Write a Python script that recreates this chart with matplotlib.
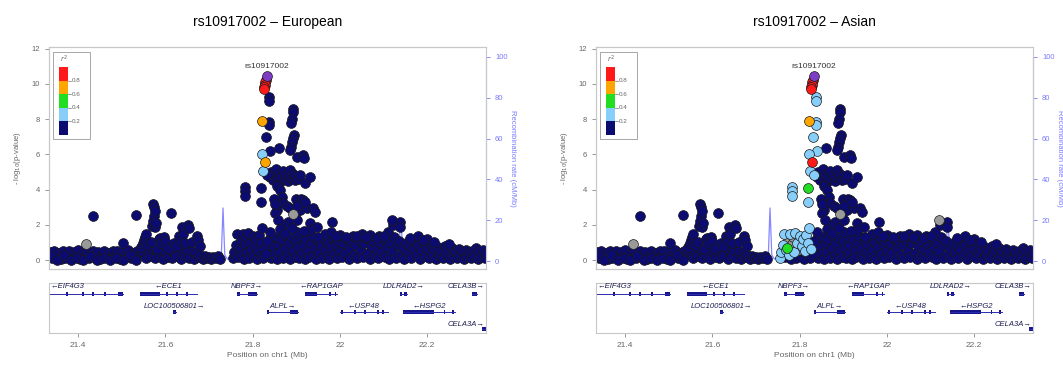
import matplotlib.pyplot as plt
from matplotlib.patches import Rectangle

plt.rcParams['font.family'] = ['Liberation Sans', 'DejaVu Sans']

# ---- data ----
lead_snp = "rs10917002"
lead_pos = 21.833
lead_logp = 10.47
panels = ["European", "Asian"]

# background SNPs, r2 < 0.2 in both populations (pos Mb, -log10 p)
band_west = [
    (21.335, 0.45), (21.340, 0.10), (21.345, 0.55), (21.350, 0.20), (21.355, 0.40), (21.360, 0.05), (21.365, 0.50),
    (21.370, 0.15), (21.375, 0.35), (21.380, 0.55), (21.385, 0.10), (21.390, 0.45), (21.395, 0.25), (21.400, 0.60),
    (21.405, 0.05), (21.410, 0.40), (21.415, 0.20), (21.420, 0.55), (21.425, 0.10), (21.430, 0.35), (21.435, 0.50),
    (21.440, 0.15), (21.445, 0.45), (21.450, 0.05), (21.455, 0.30), (21.460, 0.55), (21.465, 0.20), (21.470, 0.40),
    (21.475, 0.10), (21.480, 0.50), (21.485, 0.25), (21.490, 0.55), (21.495, 0.05), (21.500, 0.45), (21.505, 0.15),
    (21.510, 0.35), (21.515, 0.60), (21.520, 0.10), (21.525, 0.40), (21.530, 0.20), (21.535, 0.55), (21.540, 0.30),
    (21.545, 0.45), (21.338, 0.25), (21.352, 0.00), (21.368, 0.30), (21.383, 0.00), (21.398, 0.15), (21.412, 0.00),
    (21.428, 0.25), (21.443, 0.00), (21.458, 0.10), (21.473, 0.00), (21.487, 0.10), (21.503, 0.00), (21.518, 0.30),
    (21.533, 0.00),
]
band_mid = [
    (21.550, 0.40), (21.555, 0.15), (21.560, 0.60), (21.565, 0.25), (21.570, 0.70), (21.575, 0.10), (21.580, 0.50),
    (21.585, 0.30), (21.590, 0.75), (21.595, 0.05), (21.600, 0.55), (21.605, 0.20), (21.610, 0.65), (21.615, 0.10),
    (21.620, 0.45), (21.625, 0.25), (21.630, 0.80), (21.635, 0.05), (21.640, 0.55), (21.645, 0.30), (21.650, 0.60),
    (21.655, 0.15), (21.660, 0.50), (21.665, 0.05), (21.670, 0.40), (21.675, 0.20), (21.680, 0.30), (21.685, 0.05),
    (21.690, 0.25), (21.695, 0.10), (21.700, 0.20), (21.705, 0.05), (21.710, 0.20), (21.715, 0.10), (21.720, 0.25),
    (21.725, 0.05),
]
band_east = [
    (21.836, 0.50), (21.840, 1.20), (21.843, 0.10), (21.846, 0.80), (21.850, 0.35), (21.853, 1.30), (21.856, 0.05),
    (21.860, 0.90), (21.863, 0.45), (21.866, 1.20), (21.870, 0.15), (21.873, 0.70), (21.876, 1.35), (21.880, 0.30),
    (21.883, 0.95), (21.886, 0.05), (21.890, 1.25), (21.893, 0.55), (21.896, 0.20), (21.900, 1.10), (21.903, 0.75),
    (21.906, 0.10), (21.910, 1.30), (21.913, 0.40), (21.916, 0.85), (21.920, 0.05), (21.923, 1.20), (21.926, 0.50),
    (21.930, 0.20), (21.933, 0.95), (21.936, 1.35), (21.940, 0.30), (21.943, 0.70), (21.946, 0.05), (21.950, 1.15),
    (21.953, 0.45), (21.956, 0.85), (21.960, 0.15), (21.963, 1.25), (21.966, 0.60), (21.970, 0.25), (21.973, 1.00),
    (21.976, 0.05), (21.980, 0.75), (21.983, 1.30), (21.986, 0.35), (21.990, 0.90), (21.993, 0.10), (21.996, 1.10),
    (22.000, 0.50), (22.004, 0.20), (22.008, 0.95), (22.012, 0.40), (22.016, 1.20), (22.020, 0.05), (22.024, 0.70),
    (22.028, 1.05), (22.032, 0.30), (22.036, 0.85), (22.040, 0.10), (22.044, 1.15), (22.048, 0.55), (22.052, 0.20),
    (22.056, 0.95), (22.060, 1.25), (22.064, 0.40), (22.068, 0.05), (22.072, 0.80), (22.076, 1.10), (22.080, 0.30),
    (22.084, 0.65), (22.088, 0.10), (22.092, 1.00), (22.096, 0.45), (22.100, 1.20), (22.104, 0.20), (22.108, 0.75),
    (22.112, 0.05), (22.116, 0.95), (22.120, 0.50), (22.124, 1.30), (22.128, 0.15), (22.132, 0.85), (22.136, 1.10),
    (22.140, 0.35), (22.144, 0.70), (22.148, 0.05), (22.152, 1.00), (22.156, 0.45), (22.160, 0.80), (22.164, 0.10),
    (22.168, 0.65), (22.172, 1.05), (22.176, 0.30), (22.180, 0.85), (22.184, 0.05), (22.188, 0.60), (22.192, 0.95),
    (22.196, 0.25), (22.200, 0.70), (22.204, 0.10), (22.208, 0.85), (22.212, 0.40), (22.216, 0.65), (22.220, 0.05),
    (22.224, 0.75), (22.228, 0.30), (22.232, 0.55), (22.236, 0.10), (22.240, 0.80), (22.244, 0.35), (22.248, 0.60),
    (22.252, 0.05), (22.256, 0.70), (22.260, 0.25), (22.264, 0.50), (22.268, 0.10), (22.272, 0.65), (22.276, 0.30),
    (22.280, 0.55), (22.284, 0.05), (22.288, 0.60), (22.292, 0.20), (22.296, 0.45), (22.300, 0.10), (22.304, 0.55),
    (22.308, 0.25), (22.312, 0.70), (22.316, 0.05), (22.320, 0.50), (22.324, 0.20), (22.328, 0.60), (22.332, 0.10),
    (22.336, 0.40),
]
upper_west = [
    (21.434, 2.50), (21.503, 0.95), (21.533, 2.55), (21.545, 0.75), (21.548, 0.95), (21.550, 1.15), (21.553, 1.30),
    (21.555, 1.50), (21.560, 0.85), (21.566, 1.05), (21.570, 1.95), (21.571, 2.20), (21.572, 3.20), (21.573, 2.50),
    (21.574, 3.00), (21.575, 2.80), (21.576, 1.90), (21.578, 2.10), (21.580, 0.65), (21.585, 1.20), (21.588, 1.25),
    (21.590, 1.00), (21.596, 1.30), (21.598, 1.10), (21.605, 0.70), (21.613, 2.70), (21.620, 1.00), (21.625, 0.80),
    (21.630, 1.40), (21.635, 1.10), (21.638, 1.90), (21.640, 1.50), (21.645, 0.95), (21.652, 2.00), (21.654, 1.80),
    (21.660, 1.05), (21.672, 1.40), (21.675, 1.15), (21.680, 0.80),
]
upper_east = [
    (21.893, 8.60), (21.892, 8.40), (21.890, 8.00), (21.889, 7.80), (21.894, 7.10), (21.893, 6.95), (21.891, 6.70),
    (21.888, 6.40), (21.886, 6.25), (21.861, 6.35), (21.902, 5.85), (21.915, 5.95), (21.918, 5.80),
    (21.840, 4.70), (21.843, 5.00), (21.847, 4.55), (21.850, 4.85), (21.853, 5.20), (21.856, 4.60), (21.860, 4.90),
    (21.863, 4.45), (21.866, 4.75), (21.870, 5.05), (21.873, 4.60), (21.876, 4.85), (21.880, 4.50), (21.883, 4.75),
    (21.886, 5.10), (21.890, 4.65), (21.893, 4.90), (21.897, 4.55), (21.900, 4.80), (21.905, 4.60), (21.909, 4.85),
    (21.920, 4.40), (21.932, 4.70),
    (21.855, 4.20), (21.863, 4.00), (21.867, 3.60), (21.870, 3.25), (21.851, 3.40), (21.856, 2.85), (21.851, 2.70),
    (21.879, 3.10), (21.886, 2.95), (21.897, 2.65), (21.909, 2.85), (21.902, 2.30), (21.925, 2.95), (21.939, 2.95),
    (21.943, 2.75), (21.881, 2.15), (21.870, 2.00), (21.858, 2.30), (21.932, 2.10), (21.948, 1.90), (21.982, 2.15),
    (21.900, 3.45), (21.910, 3.50), (21.915, 3.40), (21.920, 3.30), (21.902, 3.10), (21.848, 3.50), (21.852, 3.20),
    (21.902, 1.60), (21.932, 1.70), (21.965, 1.50), (21.980, 1.60), (22.000, 1.45), (22.030, 1.40), (22.050, 1.50),
    (22.070, 1.45), (22.090, 1.40), (22.110, 1.60), (22.122, 2.00), (22.138, 2.15), (22.138, 1.90), (22.180, 1.40),
    (22.200, 1.20), (22.215, 1.05), (22.250, 0.90), (21.840, 1.60), (21.862, 1.75), (21.875, 1.55), (21.890, 1.80),
    (21.918, 1.65), (21.950, 1.30), (21.990, 1.40), (22.015, 1.30), (22.040, 1.35), (22.060, 1.30), (22.085, 1.25),
    (22.100, 1.35), (22.160, 1.25), (22.190, 1.15),
]

# SNPs whose LD bin is shown: (pos, -log10 p, bin European, bin Asian)
# bins: R >0.8, O 0.6-0.8, G 0.4-0.6, L 0.2-0.4, N <0.2, X no LD info
ld_snps = [
    (21.831, 10.25, "R", "R"), (21.829, 10.10, "R", "R"), (21.828, 9.95, "R", "R"), (21.826, 9.85, "R", "R"),
    (21.825, 9.72, "R", "R"), (21.837, 9.25, "N", "L"), (21.838, 9.05, "N", "L"), (21.822, 7.90, "O", "O"),
    (21.837, 7.85, "N", "L"), (21.838, 7.65, "N", "L"), (21.830, 7.00, "N", "L"), (21.840, 6.20, "N", "L"),
    (21.822, 6.00, "L", "L"), (21.829, 5.60, "O", "R"), (21.824, 5.05, "L", "L"), (21.833, 4.85, "N", "L"),
    (21.820, 4.10, "N", "G"), (21.783, 4.15, "N", "L"), (21.783, 3.90, "N", "L"), (21.783, 3.65, "N", "L"),
    (21.818, 3.30, "N", "L"), (21.418, 0.90, "X", "X"), (21.893, 2.60, "X", "X"), (22.120, 2.30, "N", "X"),
    (21.755, 0.10, "N", "L"), (21.758, 0.45, "N", "L"), (21.762, 0.85, "N", "L"), (21.764, 1.50, "N", "L"),
    (21.766, 0.20, "N", "N"), (21.768, 0.60, "N", "L"), (21.771, 0.70, "N", "G"), (21.773, 1.10, "N", "X"),
    (21.776, 0.30, "N", "L"), (21.778, 1.50, "N", "L"), (21.780, 0.05, "N", "N"), (21.782, 0.90, "N", "X"),
    (21.785, 1.30, "N", "X"), (21.787, 0.45, "N", "L"), (21.790, 1.55, "N", "L"), (21.792, 0.15, "N", "N"),
    (21.794, 1.00, "N", "L"), (21.797, 0.60, "N", "X"), (21.800, 1.35, "N", "L"), (21.802, 0.25, "N", "N"),
    (21.805, 0.80, "N", "L"), (21.808, 1.20, "N", "L"), (21.810, 0.05, "N", "N"), (21.813, 0.55, "N", "L"),
    (21.815, 1.45, "N", "L"), (21.818, 0.30, "N", "N"), (21.820, 0.95, "N", "L"), (21.821, 1.85, "N", "L"),
    (21.824, 0.15, "N", "N"), (21.827, 0.65, "N", "L"), (21.830, 0.35, "N", "N"), (21.833, 1.10, "N", "N"),
]

# recombination rate (cM/Mb)
recomb_pos = [21.333, 21.40, 21.45, 21.50, 21.54, 21.56, 21.58, 21.60, 21.62, 21.64, 21.66, 21.68, 21.70,
              21.72, 21.728, 21.732, 21.736, 21.742, 21.76, 21.78, 21.80, 21.82, 21.835, 21.843, 21.85,
              21.86, 21.90, 21.95, 22.00, 22.05, 22.10, 22.12, 22.135, 22.14, 22.145, 22.16, 22.20,
              22.25, 22.30, 22.335]
recomb_rate = [0.5, 0.5, 0.8, 1.0, 2.0, 4.0, 3.0, 2.0, 3.5, 2.0, 1.5, 1.0, 0.8,
               0.5, 2.0, 26.0, 3.0, 1.0, 3.0, 2.0, 5.0, 3.0, 4.0, 12.0, 3.0,
               1.5, 1.0, 1.5, 1.0, 1.5, 1.0, 2.0, 8.0, 19.0, 3.0, 1.5, 1.0,
               1.0, 0.8, 0.5]

# genes
gene_names = ["EIF4G3", "ECE1", "NBPF3", "RAP1GAP", "LDLRAD2", "CELA3B",
              "LOC100506801", "ALPL", "USP48", "HSPG2", "CELA3A"]
gene_start = [21.335, 21.542, 21.764, 21.920, 22.138, 22.303, 21.617, 21.833, 22.000, 22.145, 22.326]
gene_end = [21.503, 21.672, 21.810, 21.993, 22.154, 22.315, 21.624, 21.904, 22.110, 22.264, 22.334]
gene_strand = ["-", "-", "+", "-", "+", "+", "+", "+", "-", "-", "+"]
gene_row = [0, 0, 0, 0, 0, 0, 1, 1, 1, 1, 2]
gene_exons = [
    [(21.372, 21.376), (21.409, 21.413), (21.432, 21.436), (21.459, 21.463), (21.491, 21.503)],
    [(21.542, 21.588), (21.602, 21.606), (21.625, 21.629), (21.648, 21.652)],
    [(21.764, 21.772), (21.789, 21.810)],
    [(21.920, 21.948), (21.976, 21.980), (21.988, 21.992)],
    [(22.138, 22.142), (22.148, 22.154)],
    [(22.303, 22.315)],
    [(21.617, 21.624)],
    [(21.833, 21.837), (21.886, 21.904)],
    [(22.003, 22.007), (22.033, 22.037), (22.056, 22.060), (22.086, 22.090), (22.097, 22.101)],
    [(22.145, 22.215), (22.238, 22.242), (22.258, 22.262)],
    [(22.326, 22.334)],
]

# ---- styling ----
bin_colors = {"N": "#0b0b72", "L": "#87cefa", "G": "#22dd22", "O": "#ffa500",
              "R": "#ff1a1a", "X": "#9a9a9a"}
lead_color = "#7e3cc6"
recomb_color = "#7a7aff"
grey_txt = "#666666"
frame_col = "#c8c8c8"
xmin, xmax = 21.333, 22.335

fig = plt.figure(figsize=(10.63, 3.69), dpi=100)
lefts = [49 / 1063, 596 / 1063]
width = 437 / 1063


def draw_panel(left, pop_idx, title):
    ax = fig.add_axes([left, 100 / 369, width, 222 / 369])
    ax2 = ax.twinx()
    ax.set_zorder(ax2.get_zorder() + 1)
    ax.patch.set_visible(False)

    # recombination rate
    ax2.plot(recomb_pos, recomb_rate, color=recomb_color, lw=0.9, alpha=0.9)
    ax2.set_ylim(-3.9, 104.9)
    ax2.set_yticks(range(0, 101, 20))
    ax2.tick_params(axis='y', colors=recomb_color, labelsize=5.5, length=3, width=0.6)
    ax2.set_ylabel("Recombination rate (cM/Mb)", color=recomb_color, fontsize=5.5,
                   rotation=270, labelpad=6)

    # background SNPs
    bg = band_west + band_mid + band_east + upper_west + upper_east
    kw = dict(s=50, linewidths=0.5, edgecolors="#1a1a1a")
    ax.scatter([p for p, _ in bg], [v for _, v in bg], c=bin_colors["N"], **kw)
    for b in ["N", "X", "L", "G", "O", "R"]:
        pts = [s for s in ld_snps if s[2 + pop_idx] == b]
        if pts:
            ax.scatter([s[0] for s in pts], [s[1] for s in pts], c=bin_colors[b], **kw)
    ax.scatter([lead_pos], [lead_logp], c=lead_color, **kw)
    ax.text(lead_pos, lead_logp + 0.55, lead_snp, ha="center", va="center",
            fontsize=6, color="#333333")

    ax.set_xlim(xmin, xmax)
    ax.set_ylim(-0.5, 12.1)
    ax.set_yticks(range(0, 13, 2))
    ax.tick_params(axis='x', bottom=False, labelbottom=False)
    ax.tick_params(axis='y', colors="#888888", labelcolor=grey_txt, labelsize=5.5, length=3, width=0.6)
    ax.set_ylabel("- log$_{10}$(p-value)", fontsize=5.5, color=grey_txt, labelpad=6)
    for a in (ax, ax2):
        for sp in a.spines.values():
            sp.set_color(frame_col)
            sp.set_linewidth(0.8)
    ax2.spines["right"].set_color(recomb_color)
    ax2.spines["right"].set_bounds(0, 100)

    # r2 legend
    ax.add_patch(Rectangle((0.009, 0.586), 0.085, 0.391, transform=ax.transAxes,
                           fill=False, edgecolor="#999999", lw=0.6))
    for k, b in enumerate(["N", "L", "G", "O", "R"]):
        ax.add_patch(Rectangle((0.023, 0.604 + k * 0.0612), 0.021, 0.0612,
                               transform=ax.transAxes, facecolor=bin_colors[b], edgecolor="none"))
    for k, lab in enumerate(["0.2", "0.4", "0.6", "0.8"]):
        yy = 0.604 + (k + 1) * 0.0612
        ax.plot([0.044, 0.05], [yy, yy], transform=ax.transAxes, color="#777777", lw=0.5)
        ax.text(0.052, yy, lab, transform=ax.transAxes, fontsize=4.5, color=grey_txt, va="center")
    ax.text(0.035, 0.945, "$r^2$", transform=ax.transAxes, fontsize=5, color=grey_txt,
            ha="center", va="center")

    fig.text(left + width / 2, 1 - 22 / 369, title, ha="center", va="center", fontsize=10)

    # gene track
    g = fig.add_axes([left, 36 / 369, width, 50 / 369])
    g.set_xlim(xmin, xmax)
    g.set_ylim(0, 50)
    g.set_yticks([])
    line_y = [39, 21, 4]
    label_y = [46, 27, 8.5]
    for name, s, e, st, r, ex in zip(gene_names, gene_start, gene_end, gene_strand, gene_row, gene_exons):
        g.plot([s, e], [line_y[r], line_y[r]], color="#2b2bb0", lw=0.7)
        for a, b in ex:
            g.add_patch(Rectangle((a, line_y[r] - 1.6), b - a, 3.2, facecolor="#16168a", edgecolor="none"))
        lab = "\u2190" + name if st == "-" else name + "\u2192"
        if s < xmin + 0.03:
            x, ha = xmin + 0.004, "left"
        elif e > xmax - 0.03:
            x, ha = xmax - 0.004, "right"
        else:
            x, ha = (s + e) / 2, "center"
        g.text(x, label_y[r], lab, ha=ha, va="center", fontsize=5.5, style="italic", color="#1c1c50")
    g.set_xticks([21.4, 21.6, 21.8, 22.0, 22.2])
    g.set_xticklabels(["21.4", "21.6", "21.8", "22", "22.2"])
    g.tick_params(axis='x', colors="#888888", labelcolor=grey_txt, labelsize=6, length=3, width=0.6)
    g.set_xlabel("Position on chr1 (Mb)", fontsize=6, color=grey_txt, labelpad=2)
    for sp in g.spines.values():
        sp.set_color(frame_col)
        sp.set_linewidth(0.8)


for i, pop in enumerate(panels):
    draw_panel(lefts[i], i, lead_snp + " \u2013 " + pop)

fig.savefig("out.png", dpi=100)
